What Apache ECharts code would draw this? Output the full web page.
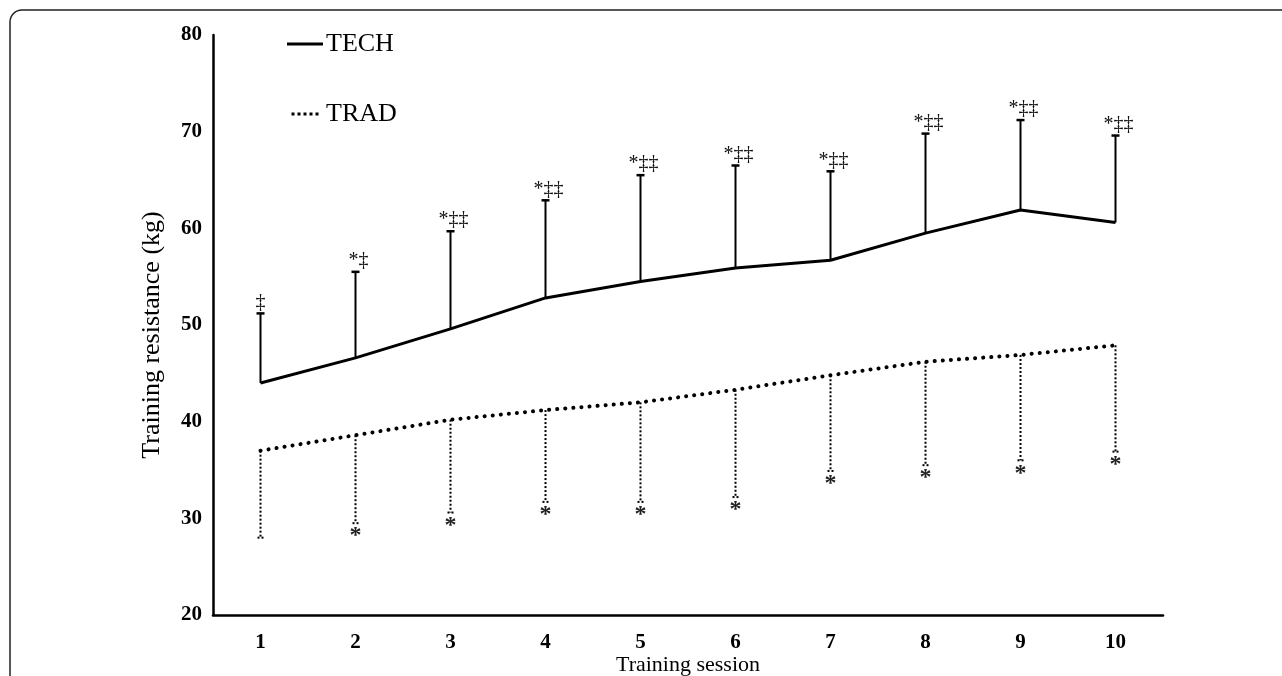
<!DOCTYPE html>
<html>
<head>
<meta charset="utf-8">
<script src="https://cdn.jsdelivr.net/npm/echarts@6/dist/echarts.min.js"></script>
<style>html,body{margin:0;padding:0;background:#fff;}#c{width:1282px;height:676px;}</style>
</head>
<body>
<div id="c"></div>
<script>
const sessions = ['1','2','3','4','5','6','7','8','9','10'];
const techMean = [44.0, 46.6, 49.6, 52.8, 54.5, 55.9, 56.7, 59.5, 61.9, 60.6];
const techUpper = [51.2, 55.5, 59.7, 62.9, 65.5, 66.5, 65.9, 69.8, 71.2, 69.6];
const techMarks = ['‡', '*‡', '*‡‡', '*‡‡', '*‡‡', '*‡‡', '*‡‡', '*‡‡', '*‡‡', '*‡‡'];
const tradMean = [37.0, 38.6, 40.2, 41.2, 42.0, 43.3, 44.8, 46.2, 46.9, 47.9];
const tradLower = [28.0, 29.5, 30.6, 31.7, 31.7, 32.2, 34.9, 35.5, 36.0, 36.9];
const tradMarks = ['', '*', '*', '*', '*', '*', '*', '*', '*', '*'];
const yTicks = {min: 20, max: 80, interval: 10};

const FONT = '"Liberation Serif", "Times New Roman", serif';
const chart = echarts.init(document.getElementById('c'));

function techBar(params, api) {
  const i = api.value(0);
  const p0 = api.coord([i, api.value(1)]);
  const p1 = api.coord([i, api.value(2)]);
  const mark = techMarks[params.dataIndex];
  return {
    type: 'group',
    children: [
      {type: 'line', shape: {x1: p0[0], y1: p0[1], x2: p1[0], y2: p1[1]}, style: {stroke: '#000', lineWidth: 2}},
      {type: 'line', shape: {x1: p1[0] - 4, y1: p1[1], x2: p1[0] + 4, y2: p1[1]}, style: {stroke: '#000', lineWidth: 2.5}},
      {type: 'text', x: p1[0] + (mark.length > 1 ? 3 : 0), y: p1[1] - 1,
       style: {text: mark, font: '20px ' + FONT, fill: '#111', align: 'center', verticalAlign: 'bottom'}}
    ]
  };
}
function tradBar(params, api) {
  const i = api.value(0);
  const p0 = api.coord([i, api.value(1)]);
  const p1 = api.coord([i, api.value(2)]);
  const mark = tradMarks[params.dataIndex];
  return {
    type: 'group',
    children: [
      {type: 'line', shape: {x1: p0[0], y1: p0[1], x2: p1[0], y2: p1[1]}, style: {stroke: '#000', lineWidth: 2, lineDash: [2, 2]}},
      {type: 'line', shape: {x1: p1[0] - 3, y1: p1[1], x2: p1[0] + 3, y2: p1[1]}, style: {stroke: '#000', lineWidth: 2, lineDash: [2, 2]}},
      {type: 'text', x: p1[0], y: p1[1] + 1,
       style: {text: mark, font: 'bold 24px ' + FONT, fill: '#222', align: 'center', verticalAlign: 'top'}}
    ]
  };
}

chart.setOption({
  animation: false,
  backgroundColor: '#fff',
  graphic: [{
    type: 'rect', silent: true, z: 0,
    shape: {x: 10, y: 10, width: 1400, height: 900, r: 12},
    style: {fill: 'none', stroke: '#222', lineWidth: 1.5}
  }],
  grid: {left: 213, right: 119, top: 35, bottom: 61, outerBoundsMode: 'none', containLabel: false},
  legend: {
    orient: 'vertical', left: 282, top: 26, itemGap: 44,
    itemWidth: 36, itemHeight: 3,
    textStyle: {fontFamily: FONT, fontSize: 26, color: '#000', padding: [0, 0, 0, -2]},
    data: [
      {name: 'TECH', icon: 'rect'},
      {name: 'TRAD', icon: 'path://M0,0h4v4h-4z M8,0h4v4h-4z M16,0h4v4h-4z M24,0h4v4h-4z M32,0h4v4h-4z'}
    ]
  },
  xAxis: {
    type: 'category', data: sessions, boundaryGap: true,
    name: 'Training session', nameLocation: 'middle', nameGap: 39, nameMoveOverlap: false,
    nameTextStyle: {fontFamily: FONT, fontSize: 22, color: '#000'},
    axisLine: {lineStyle: {color: '#000', width: 2.5}},
    axisTick: {show: false},
    axisLabel: {fontFamily: FONT, fontSize: 21, fontWeight: 'bold', color: '#000', margin: 17}
  },
  yAxis: {
    type: 'value', min: yTicks.min, max: yTicks.max, interval: yTicks.interval,
    name: 'Training resistance (kg)', nameLocation: 'middle', nameGap: 48, nameMoveOverlap: false,
    nameTextStyle: {fontFamily: FONT, fontSize: 26, color: '#000', padding: [0, 20, 0, 0]},
    axisLine: {show: true, lineStyle: {color: '#000', width: 2.5}},
    axisTick: {show: false},
    splitLine: {show: false},
    axisLabel: {fontFamily: FONT, fontSize: 21, fontWeight: 'bold', color: '#000', margin: 11}
  },
  series: [
    {
      name: 'TECH', type: 'line', data: techMean, symbol: 'none', z: 3,
      lineStyle: {color: '#000', width: 3}, itemStyle: {color: '#000'}
    },
    {
      name: 'TRAD', type: 'line', data: tradMean, symbol: 'none', z: 3,
      lineStyle: {color: '#000', width: 4, type: [0.1, 8], cap: 'round'}, itemStyle: {color: '#000'}
    },
    {
      type: 'custom', renderItem: techBar, z: 2,
      data: techMean.map((m, i) => [i, m, techUpper[i]])
    },
    {
      type: 'custom', renderItem: tradBar, z: 2,
      data: tradMean.map((m, i) => [i, m, tradLower[i]])
    }
  ]
});
</script>
</body>
</html>
